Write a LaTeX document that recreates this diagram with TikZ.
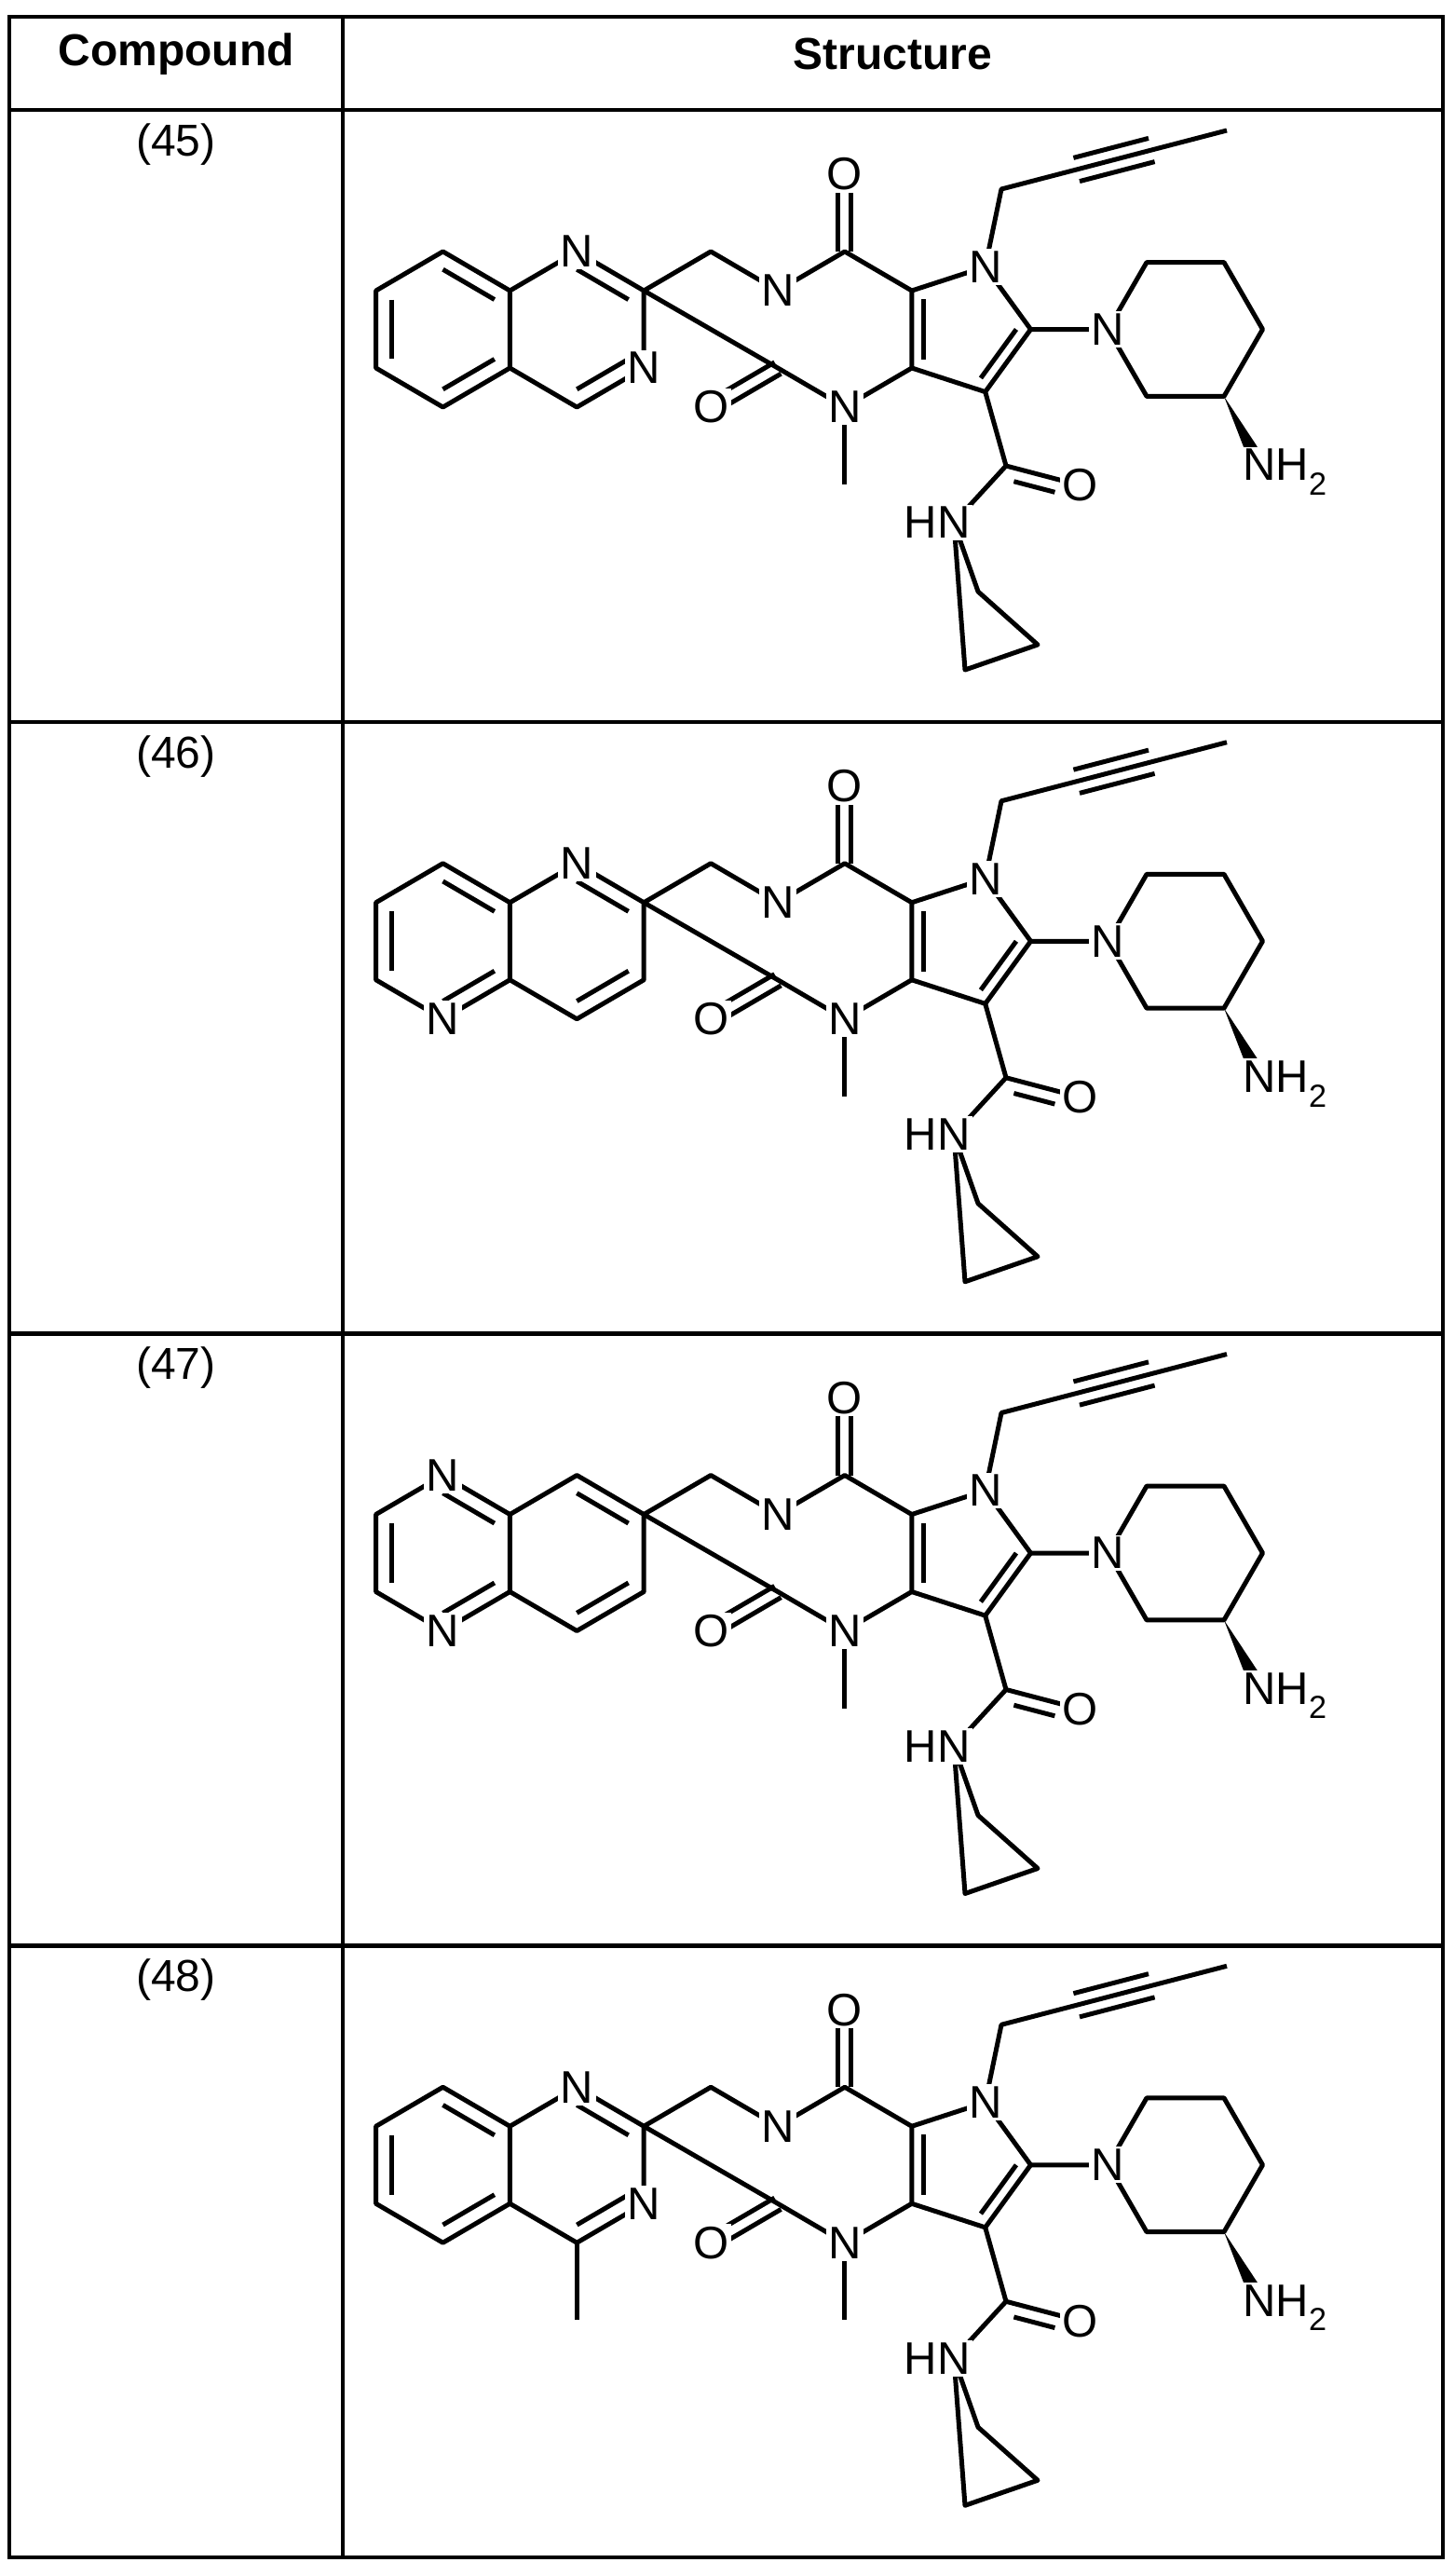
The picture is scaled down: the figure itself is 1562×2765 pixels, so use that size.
\documentclass[tikz,border=0pt]{standalone}
\usepackage{fontspec}
\setmainfont{Liberation Sans}
\usetikzlibrary{calc}
\tikzset{
  bond/.style={line width=5pt, line join=round},
  tbl/.style={line width=4.5pt},
  atom/.style={fill=white, inner sep=2.5pt, font=\fontsize{49}{49}\selectfont},
  hdr/.style={font=\fontsize{48}{48}\selectfont\bfseries},
  num/.style={font=\fontsize{48}{48}\selectfont}
}
\newcommand\mymol[1]{%
  \coordinate (At) at (475.5,270); \coordinate (Aur) at (547.4,312);
  \coordinate (Alr) at (547.4,395); \coordinate (Ab) at (475.5,437);
  \coordinate (All) at (403.6,395); \coordinate (Aul) at (403.6,312);
  \coordinate (Ac) at (475.5,353.5);
  \coordinate (Bt) at (619.3,270); \coordinate (Bur) at (691.2,312);
  \coordinate (Blr) at (691.2,395); \coordinate (Bb) at (619.3,437);
  \coordinate (Bc) at (619.3,353.5);
  \coordinate (M) at (763.1,270); \coordinate (Cn) at (835,312);
  \coordinate (C6) at (906.9,270); \coordinate (C4a) at (978.8,312);
  \coordinate (C7a) at (978.8,395); \coordinate (N1) at (906.9,437);
  \coordinate (C2) at (835,395);
  \coordinate (Pn) at (1057.7,286.4); \coordinate (P6) at (1106.5,353.5);
  \coordinate (P7) at (1057.7,420.6); \coordinate (Pc) at (1035.9,353.5);
  \coordinate (Ot) at (906.9,187); \coordinate (Ob) at (763.1,437);
  \coordinate (Me) at (906.9,520);
  \coordinate (Q1) at (1075,203); \coordinate (Qa) at (1155.7,182);
  \coordinate (Qb) at (1236.3,161); \coordinate (Q3) at (1317,140);
  \coordinate (Rn) at (1189.5,353.5); \coordinate (R2) at (1231,281.6);
  \coordinate (R3) at (1314,281.6); \coordinate (R4) at (1355.5,353.5);
  \coordinate (R5) at (1314,425.4); \coordinate (R6) at (1231,425.4);
  \coordinate (Am) at (1352,499);
  \coordinate (K) at (1080,500); \coordinate (Ok) at (1160,521);
  \coordinate (Hn) at (1024,561);
  \coordinate (Y1) at (1050,635); \coordinate (Y2) at (1114,692); \coordinate (Y3) at (1036,719);
  % bicyclic
  \draw[bond] (Aul)--(At)--(Aur)--(Alr)--(Ab)--(All)--cycle;
  \draw[bond] (Aur)--(Bt)--(Bur)--(Blr)--(Bb)--(Alr);
  \draw[bond] ($(At)!.23!(Ac)$)--($(Aur)!.23!(Ac)$);
  \draw[bond] ($(Aul)!.23!(Ac)$)--($(All)!.23!(Ac)$);
  \draw[bond] ($(Alr)!.23!(Ac)$)--($(Ab)!.23!(Ac)$);
  \draw[bond] ($(Bt)!.23!(Bc)$)--($(Bur)!.23!(Bc)$);
  \draw[bond] ($(Blr)!.23!(Bc)$)--($(Bb)!.23!(Bc)$);
  \ifnum#1=4 \draw[bond] (Bb)--++(0,83); \fi
  % linker and core
  \draw[bond] (Bur)--(M)--(Cn)--(C6)--(C4a)--(C7a)--(N1)--(C2)--cycle;
  \draw[bond] (N1)--(Me);
  \draw[bond] ([xshift=-7pt]C6)--([xshift=-7pt]Ot);
  \draw[bond] ([xshift=7pt]C6)--([xshift=7pt]Ot);
  \draw[bond] ([shift={(3.5,6.1)}]C2)--([shift={(3.5,6.1)}]Ob);
  \draw[bond] ([shift={(-3.5,-6.1)}]C2)--([shift={(-3.5,-6.1)}]Ob);
  % pyrrole
  \draw[bond] (C4a)--(Pn)--(P6)--(P7)--(C7a);
  \draw[bond] ($(C4a)!.22!(Pc)$)--($(C7a)!.22!(Pc)$);
  \draw[bond] ($(P6)!.22!(Pc)$)--($(P7)!.22!(Pc)$);
  % butynyl
  \draw[bond] (Pn)--(Q1)--(Qa)--(Qb)--(Q3);
  \draw[bond] ([shift={(3.3,12.6)}]Qa)--([shift={(3.3,12.6)}]Qb);
  \draw[bond] ([shift={(-3.3,-12.6)}]Qa)--([shift={(-3.3,-12.6)}]Qb);
  % piperidine
  \draw[bond] (P6)--(Rn)--(R2)--(R3)--(R4)--(R5)--(R6)--(Rn);
  \fill (R5)--(1349.8,479.5)--(1337.4,485.9)--cycle;
  % amide
  \draw[bond] (P7)--(K)--(Ok);
  \draw[bond] (K)--(Hn);
  \draw[bond] ($(K)!.15!(Ok)+(-3.6,13.6)$)--($(K)!.7!(Ok)+(-3.6,13.6)$);
  \draw[bond] (Hn)--(Y1)--(Y2)--(Y3)--cycle;
  % labels
  \node[atom] (lOt) at (Ot) {O};
  \node[atom] (lOb) at (Ob) {O};
  \node[atom] (lOk) at (Ok) {O};
  \node[atom] (lCn) at (Cn) {N};
  \node[atom] (lN1) at (N1) {N};
  \node[atom] (lPn) at (Pn) {N};
  \node[atom] (lRn) at (Rn) {N};
  \node[atom] (lHn) at (Hn) {\llap{H}N};
  \node[atom] (lAm) at (Am) {N\smash{\rlap{H\textsubscript{2}}}};
  \ifcase#1\or
    \node[atom] (x1) at (Bt) {N}; \node[atom] (x2) at (Blr) {N};
  \or
    \node[atom] (x1) at (Bt) {N}; \node[atom] (x2) at (Ab) {N};
  \or
    \node[atom] (x1) at (At) {N}; \node[atom] (x2) at (Ab) {N};
  \or
    \node[atom] (x1) at (Bt) {N}; \node[atom] (x2) at (Blr) {N};
  \fi
}
\begin{document}
\begin{tikzpicture}[x=1pt,y=-1pt]
\useasboundingbox (0,0) rectangle (1562,2765);
\fill[white] (0,0) rectangle (1562,2765);
% table
\draw[tbl] (10,18) rectangle (1549,2745);
\draw[tbl] (368,18) -- (368,2745);
\foreach \yy in {118,774.75,1431.5,2088.25} \draw[tbl] (10,\yy) -- (1549,\yy);
\node[hdr] (h1) at (189,58) {Compound};
\node[hdr] (h2) at (958.5,58) {Structure};
\foreach \k/\lab in {0/45,1/46,2/47,3/48} {
  \node[num] (n\k) at (189,155+656.75*\k) {(\lab)};
}
\begin{scope}[shift={(0,0)}]\mymol{1}\end{scope}
\begin{scope}[shift={(0,656.75)}]\mymol{2}\end{scope}
\begin{scope}[shift={(0,1313.5)}]\mymol{3}\end{scope}
\begin{scope}[shift={(0,1970.25)}]\mymol{4}\end{scope}
\end{tikzpicture}
\end{document}
